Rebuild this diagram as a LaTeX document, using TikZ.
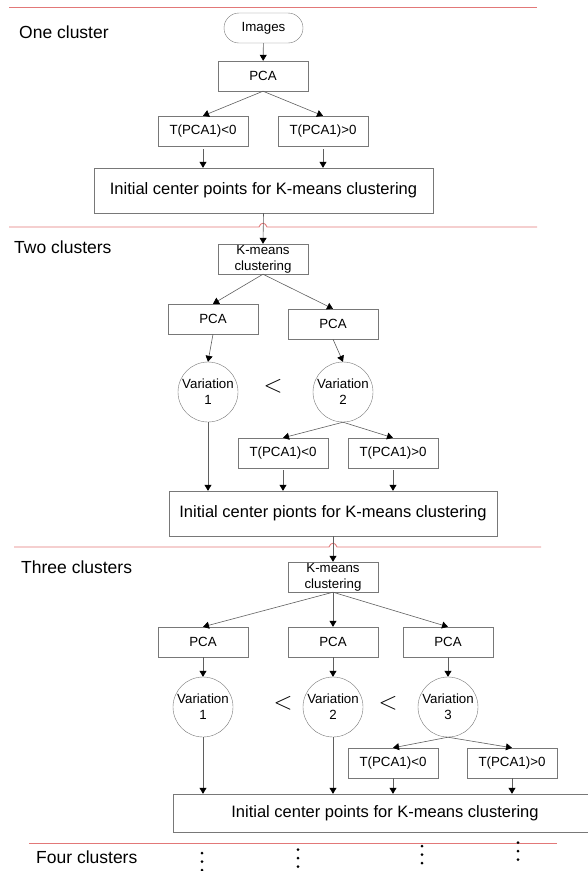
\documentclass[tikz,border=0pt]{standalone}
\usepackage{fontspec}
\setmainfont{Liberation Sans}
\usetikzlibrary{arrows.meta}

\definecolor{sepred}{RGB}{226,120,120}
\definecolor{boxgray}{RGB}{120,120,120}
\definecolor{linegray}{RGB}{95,95,95}

\tikzset{
  box/.style={draw=boxgray, minimum width=90pt, minimum height=30pt, inner sep=1pt,
    align=center, font=\fontsize{13.3}{16}\selectfont},
  pill/.style={box, minimum width=79pt, rounded corners=15pt},
  var/.style={circle, draw=boxgray, minimum size=60pt, inner sep=0pt, align=center,
    font=\fontsize{13.3}{16}\selectfont},
  bigbox/.style={draw=boxgray, minimum height=45pt, inner sep=1pt, font=\fontsize{16.5}{20}\selectfont},
  less/.style={inner sep=0pt, font=\fontsize{24}{28}\selectfont},
  lbl/.style={anchor=west, inner sep=0pt, font=\fontsize{17.5}{21}\selectfont},
  flow/.style={draw=linegray, line width=0.6pt, -{Triangle[length=6pt,width=7pt,color=black]}},
  sep/.style={draw=sepred, line width=0.9pt},
}

\begin{document}
\begin{tikzpicture}[x=1pt, y=-1pt]
  \useasboundingbox (0,0) rectangle (587,871);

  %% Section separators (with hops over the connectors)
  \draw[sep] (9,7.5) -- (537,7.5);
  \draw[sep] (9,227) -- (259,227) .. controls (260.5,222) and (265.5,222) .. (267,227) -- (537,227);
  \draw[sep] (14,547) -- (329,547) .. controls (330.5,542) and (335.5,542) .. (337,547) -- (541,547);
  \draw[sep] (29,843) -- (557,843);

  %% One cluster
  \node[lbl] (lblA) at (19,32) {One cluster};
  \node[pill] (img) at (263.5,28) {Images};
  \node[box] (pcaA) at (263,76) {PCA};
  \node[box] (tnA) at (203,131) {T(PCA1)<0};
  \node[box] (tpA) at (323,131) {T(PCA1)>0};
  \node[bigbox, minimum width=339pt] (initA) at (263.5,190.5) {Initial center points for K-means clustering};

  \draw[flow] (img) -- (pcaA);
  \draw[flow] (pcaA.south) -- (tnA.north);
  \draw[flow] (pcaA.south) -- (tpA.north);
  \draw[flow] ([yshift=-3pt]tnA.south) -- (tnA.south |- initA.north);
  \draw[flow] ([yshift=-3pt]tpA.south) -- (tpA.south |- initA.north);

  %% Two clusters
  \node[lbl] (lblB) at (14,247) {Two clusters};
  \node[box] (kmB) at (263,259) {K-means\\clustering};
  \node[box] (pcaB1) at (213,319) {PCA};
  \node[box] (pcaB2) at (333,324) {PCA};
  \node[var] (varB1) at (208,392) {Variation\\1};
  \node[less] (ltB) at (273,386) {$<$};
  \node[var] (varB2) at (343,392) {Variation\\2};
  \node[box] (tnB) at (283,453) {T(PCA1)<0};
  \node[box] (tpB) at (393,453) {T(PCA1)>0};
  \node[bigbox, minimum width=328pt] (initB) at (333,513.5) {Initial center pionts for K-means clustering};

  \draw[flow] (initA.south) -- (kmB.north);
  \draw[flow] (kmB.south) -- (pcaB1.north);
  \draw[flow] (kmB.south) -- (pcaB2.north);
  \draw[flow] (pcaB1.south) -- (varB1.north);
  \draw[flow] (pcaB2.south) -- (varB2.north);
  \draw[flow] (varB1.south) -- (varB1.south |- initB.north);
  \draw[flow] (varB2.south) -- (tnB.north);
  \draw[flow] (varB2.south) -- (tpB.north);
  \draw[flow] ([yshift=-2pt]tnB.south) -- (tnB.south |- initB.north);
  \draw[flow] ([yshift=-2pt]tpB.south) -- (tpB.south |- initB.north);

  %% Three clusters
  \node[lbl] (lblC) at (21,567) {Three clusters};
  \node[box] (kmC) at (333,577) {K-means\\clustering};
  \node[box] (pcaC1) at (203,642) {PCA};
  \node[box] (pcaC2) at (333,642) {PCA};
  \node[box] (pcaC3) at (448,642) {PCA};
  \node[var] (varC1) at (203,707) {Variation\\1};
  \node[less] (ltC1) at (283,703) {$<$};
  \node[var] (varC2) at (333,707) {Variation\\2};
  \node[less] (ltC2) at (388,703) {$<$};
  \node[var] (varC3) at (448,707) {Variation\\3};
  \node[box] (tnC) at (393,763) {T(PCA1)<0};
  \node[box] (tpC) at (512,763) {T(PCA1)>0};
  \node[bigbox, minimum width=424pt, minimum height=38pt] (initC) at (385,813) {Initial center points for K-means clustering};

  \draw[flow] (initB.south) -- (kmC.north);
  \foreach \i in {1,2,3}
    \draw[flow] (kmC.south) -- (pcaC\i.north);
  \foreach \i in {1,2,3}
    \draw[flow] (pcaC\i.south) -- (varC\i.north);
  \draw[flow] (varC1.south) -- (varC1.south |- initC.north);
  \draw[flow] (varC2.south) -- (varC2.south |- initC.north);
  \draw[flow] (varC3.south) -- (tnC.north);
  \draw[flow] (varC3.south) -- (tpC.north);
  \draw[flow] (tnC.south) -- (tnC.south |- initC.north);
  \draw[flow] (tpC.south) -- (tpC.south |- initC.north);

  %% Four clusters
  \node[lbl] (lblD) at (36,857) {Four clusters};
  \foreach \x/\y in {202/853, 298/849.7, 422/846, 518/842.7}
    \foreach \k in {0,1,2}
      \fill (\x,\y+8.5*\k) circle[radius=1.5pt];

\end{tikzpicture}
\end{document}
